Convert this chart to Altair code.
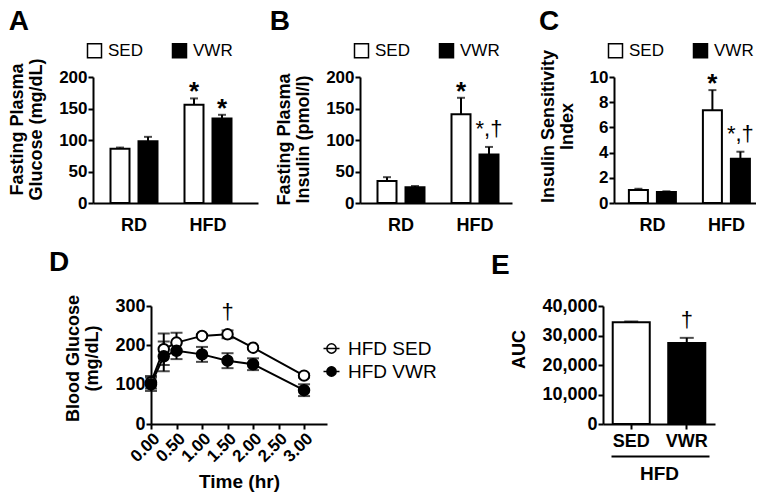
import altair as alt
import pandas as pd

FONT = "Liberation Sans, Arial, Helvetica, sans-serif"
DAG = "\u2020"

# ---------------- data ----------------
groups = ["RD", "HFD"]
conditions = ["SED", "VWR"]
bar_group = ["RD", "RD", "HFD", "HFD"]
bar_cond = ["SED", "VWR", "SED", "VWR"]

glucose_mean = [86, 98, 156, 134]
glucose_sem = [2, 7, 10, 6]
glucose_sig = ["", "", "*", "*"]

insulin_mean = [35, 25, 141, 77]
insulin_sem = [6, 2, 26, 12]
insulin_sig = ["", "", "*", "*," + DAG]

isi_mean = [1.03, 0.87, 7.36, 3.52]
isi_sem = [0.1, 0.06, 1.6, 0.55]
isi_sig = ["", "", "*", "*," + DAG]

ogtt_time = [0, 0.25, 0.5, 1.0, 1.5, 2.0, 3.0]
ogtt_sed_mean = [106, 190, 207, 224, 228, 194, 123]
ogtt_sed_sem = [16, 40, 25, 4, 10, 4, 5]
ogtt_vwr_mean = [101, 172, 186, 177, 161, 152, 86]
ogtt_vwr_sem = [17, 38, 21, 19, 19, 15, 15]
ogtt_sed_sig = ["", "", "", "", DAG, "", ""]
ogtt_vwr_sig = ["", "", "", "", "", "", ""]
ogtt_series = ["HFD SED", "HFD VWR"]
ogtt_ticks = [0, 0.5, 1.0, 1.5, 2.0, 2.5, 3.0]

auc_cond = ["SED", "VWR"]
auc_mean = [34500, 27500]
auc_sem = [250, 1700]
auc_sig = ["", DAG]


# ---------------- helpers ----------------
def band_params(width, step=74.0, pin=0.2, center1=41.0):
    po = (width / step - (2 - pin)) / 2
    space = width - step * (2 - pin)
    al = (center1 - step * (1 - pin) / 2) / space
    return po, al


def sig_layers(base, ycol, dag_dy=-6):
    star = base.transform_filter("datum.sig == '*'").mark_text(
        font=FONT, fontSize=26, fontWeight="bold", baseline="bottom", dy=7, color="black"
    ).encode(y=alt.Y(f"{ycol}:Q"), text="sig:N")
    dag = base.transform_filter(f"indexof(datum.sig, '{DAG}') >= 0").mark_text(
        font=FONT, fontSize=22, baseline="bottom", dy=dag_dy, color="black"
    ).encode(y=alt.Y(f"{ycol}:Q"), text="sig:N")
    return [star, dag]


def bar_panel(letter, mean, sem, sig, ytitle, ymax, yvals, width, title_y, title_dx):
    df = pd.DataFrame({"group": bar_group, "cond": bar_cond, "mean": mean, "sem": sem, "sig": sig})
    df["top"] = df["mean"] + df["sem"]
    po, al = band_params(width)
    x = alt.X("group:N", sort=groups,
              scale=alt.Scale(paddingInner=0.2, paddingOuter=po, align=al),
              axis=alt.Axis(title=None, ticks=False, labelAngle=0, labelFontSize=18,
                            labelPadding=13))
    xo = alt.XOffset("cond:N", sort=conditions,
                     scale=alt.Scale(paddingInner=0.3214, paddingOuter=0.2179))
    base = alt.Chart(df).encode(x=x, xOffset=xo)
    y = alt.Y("mean:Q", scale=alt.Scale(domain=[0, ymax], nice=False),
              axis=alt.Axis(values=yvals, tickCount=len(yvals), title=ytitle, titleY=title_y,
                            labelOverlap=False))
    bars = base.mark_bar(stroke="black", strokeWidth=2).encode(
        y=y,
        fill=alt.Fill("cond:N", sort=conditions,
                      scale=alt.Scale(domain=conditions, range=["white", "black"]),
                      legend=alt.Legend(orient="none", legendX=-7, legendY=-35,
                                        direction="horizontal", columns=2, title=None,
                                        symbolType="square", symbolSize=196,
                                        symbolStrokeColor="black", symbolStrokeWidth=1.5,
                                        labelFontSize=17, labelFontWeight="normal",
                                        labelOffset=5, columnPadding=26)),
    )
    err = base.mark_rule(color="black", strokeWidth=2).encode(y="mean:Q", y2="top:Q")
    caps = base.mark_tick(color="black", thickness=2, size=8, orient="horizontal").encode(y="top:Q")
    layers = [bars, err, caps] + sig_layers(base, "top")
    return alt.layer(*layers).properties(
        width=width, height=126,
        title=alt.TitleParams(letter, dx=title_dx, offset=6),
    )


# ---------------- panels A-C ----------------
panel_a = bar_panel("A", glucose_mean, glucose_sem, glucose_sig,
                    ["Fasting Plasma", "Glucose (mg/dL)"], 200, [0, 50, 100, 150, 200], 165, 52, 0)
panel_b = bar_panel("B", insulin_mean, insulin_sem, insulin_sig,
                    ["Fasting Plasma", "Insulin (pmol/l)"], 200, [0, 50, 100, 150, 200], 152, 62, -6)
panel_c = bar_panel("C", isi_mean, isi_sem, isi_sig,
                    ["Insulin Sensitivity", "Index"], 10, [0, 2, 4, 6, 8, 10], 142, 49, 0)

# ---------------- panel D ----------------
ogtt_df = pd.DataFrame({
    "time": ogtt_time * 2,
    "series": [ogtt_series[0]] * len(ogtt_time) + [ogtt_series[1]] * len(ogtt_time),
    "mean": ogtt_sed_mean + ogtt_vwr_mean,
    "sem": ogtt_sed_sem + ogtt_vwr_sem,
    "sig": ogtt_sed_sig + ogtt_vwr_sig,
})
ogtt_df["lo"] = ogtt_df["mean"] - ogtt_df["sem"]
ogtt_df["hi"] = ogtt_df["mean"] + ogtt_df["sem"]

dx = alt.X("time:Q", scale=alt.Scale(domain=[0, 3.45], nice=False, zero=False),
           axis=alt.Axis(values=ogtt_ticks, tickCount=len(ogtt_ticks), format=".2f",
                         labelAngle=-45, labelFontSize=17, labelOverlap=False,
                         title="Time (hr)", titleFontSize=19, titlePadding=8))
dy_ = alt.Y("mean:Q", scale=alt.Scale(domain=[0, 300], nice=False),
            axis=alt.Axis(values=[0, 100, 200, 300], tickCount=4, labelFontSize=18,
                          labelOverlap=False, title=["Blood Glucose", "(mg/dL)"], titleY=52))
dbase = alt.Chart(ogtt_df).encode(x=dx)
d_err = dbase.mark_rule(color="black", strokeWidth=2).encode(y=dy_, y2="hi:Q")
d_err2 = dbase.mark_rule(color="black", strokeWidth=2).encode(y="lo:Q", y2="mean:Q")
d_cap_hi = dbase.mark_tick(color="black", thickness=2, size=12, orient="horizontal").encode(y="hi:Q")
d_cap_lo = dbase.mark_tick(color="black", thickness=2, size=12, orient="horizontal").encode(y="lo:Q")
d_line = dbase.mark_line(color="black", strokeWidth=2).encode(y="mean:Q", detail="series:N")
circle_line = "M-1,0L1,0M0.58,0A0.58,0.58,0,1,1,-0.58,0A0.58,0.58,0,1,1,0.58,0Z"
d_pts = dbase.mark_point(filled=True, shape="circle", size=110, stroke="black",
                         strokeWidth=2, opacity=1).encode(
    y="mean:Q",
    fill=alt.Fill("series:N", sort=ogtt_series,
                  scale=alt.Scale(domain=ogtt_series, range=["white", "black"]),
                  legend=alt.Legend(orient="none", legendX=171, legendY=33, direction="vertical",
                                    title=None, symbolType=circle_line, symbolSize=256,
                                    symbolStrokeColor="black", symbolStrokeWidth=1.5,
                                    labelFontSize=19, labelFontWeight="normal", labelOffset=7,
                                    rowPadding=3)),
)
panel_d = alt.layer(d_err, d_err2, d_cap_hi, d_cap_lo, d_line, d_pts,
                    *sig_layers(dbase, "hi", dag_dy=-6)).properties(
    width=176, height=118, title=alt.TitleParams("D", dx=-16, offset=17))

# ---------------- panel E ----------------
auc_df = pd.DataFrame({"cond": auc_cond, "mean": auc_mean, "sem": auc_sem, "sig": auc_sig})
auc_df["top"] = auc_df["mean"] + auc_df["sem"]
auc_ticks = [0, 10000, 20000, 30000, 40000]
ex = alt.X("cond:N", sort=auc_cond, scale=alt.Scale(paddingInner=0.333, paddingOuter=0.175),
           axis=alt.Axis(title="HFD", labelAngle=0, labelFontSize=18, titleFontSize=19,
                         titlePadding=14, labelPadding=3, orient="bottom"))
ebase = alt.Chart(auc_df).encode(x=ex)
e_bars = ebase.mark_bar(stroke="black", strokeWidth=2).encode(
    y=alt.Y("mean:Q", scale=alt.Scale(domain=[0, 40000], nice=False),
            axis=alt.Axis(values=auc_ticks, tickCount=len(auc_ticks), format=",d",
                          labelFontSize=18, labelOverlap=False, title="AUC", titleY=43)),
    fill=alt.Fill("cond:N", scale=alt.Scale(domain=auc_cond, range=["white", "black"]), legend=None),
)
e_err = ebase.mark_rule(color="black", strokeWidth=2).encode(y="mean:Q", y2="top:Q")
e_caps = ebase.mark_tick(color="black", thickness=2, size=14, orient="horizontal").encode(y="top:Q")
e_main = alt.layer(e_bars, e_err, e_caps, *sig_layers(ebase, "top"))
underline = alt.Chart(pd.DataFrame({"u": [0, 1]})).mark_point(opacity=0).encode(
    x=alt.X("u:Q", scale=alt.Scale(domain=[0, 1], range=[8, 106]),
            axis=alt.Axis(orient="bottom", offset=32, labels=False, ticks=False,
                          title=None, grid=False, domainWidth=2))
)
panel_e = alt.layer(e_main, underline).resolve_scale(x="independent").properties(
    width=112, height=118, title=alt.TitleParams("E", dx=-20, offset=17))


def spacer(w, h):
    return alt.Chart(pd.DataFrame({"s": [0]})).mark_point(opacity=0).encode(
        x=alt.X("s:Q", axis=None), y=alt.Y("s:Q", axis=None)
    ).properties(width=w, height=h)


# ---------------- layout ----------------
row1 = alt.hconcat(panel_a, panel_b, panel_c, spacing=102, bounds="flush").resolve_scale(fill="independent")
row2 = alt.hconcat(spacer(56, 118), panel_d, spacer(272, 118), panel_e, spacing=2,
                   bounds="flush").resolve_scale(fill="independent")
chart = alt.vconcat(row1, row2, spacing=15).resolve_scale(fill="independent").properties(
    padding={"left": 0, "top": 0, "right": 0, "bottom": 0}
).configure(font=FONT).configure_view(stroke=None).configure_axis(
    domainColor="black", domainWidth=2, tickColor="black", tickWidth=2, tickSize=5,
    labelColor="black", titleColor="black", labelFont=FONT, titleFont=FONT,
    labelFontSize=17, labelFontWeight="bold", titleFontSize=18, titleFontWeight="bold",
    titleLineHeight=19, grid=False, titlePadding=13, labelPadding=1, labelFlush=False,
).configure_legend(labelFont=FONT, labelColor="black", padding=0).configure_title(
    font=FONT, fontSize=28, fontWeight="bold", color="black", anchor="start", frame="bounds"
)

chart.save("out.html", embed_options={"renderer": "svg", "actions": False})
